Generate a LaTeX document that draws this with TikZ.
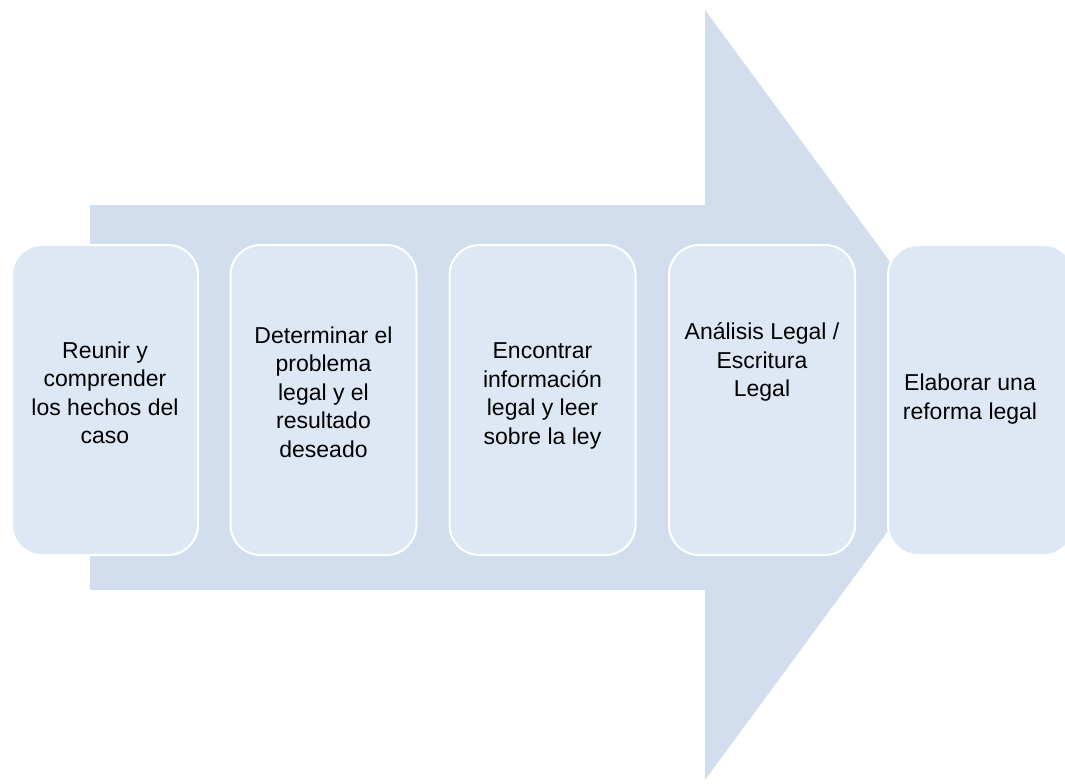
\documentclass[tikz,border=0pt]{standalone}
\usepackage{fontspec}
\setmainfont{Liberation Sans}
\definecolor{arrowfill}{RGB}{210,222,238}
\definecolor{boxfill}{RGB}{222,232,245}
\begin{document}
\begin{tikzpicture}[x=1pt,y=-1pt,
  stepbox/.style={draw=white, line width=2pt, fill=boxfill, rounded corners=30pt,
    minimum width=186pt, minimum height=310pt, inner sep=0pt},
  steptext/.style={align=center, font=\fontsize{23}{28.5}\selectfont, text=black, inner sep=0pt}]
\useasboundingbox (0,0) rectangle (1065,784);
\clip (0,0) rectangle (1065,784);
\fill[arrowfill] (90,205) -- (705,205) -- (705,10) -- (988,395) -- (705,780) -- (705,590) -- (90,590) -- cycle;
\node[stepbox] (b1) at (105,400) {};
\node[stepbox] (b2) at (323.5,400) {};
\node[stepbox] (b3) at (542.5,400) {};
\node[stepbox] (b4) at (762,400) {};
\node[stepbox] (b5) at (981,400) {};
\node[steptext] (t1) at (105,393) {Reunir y\\comprender\\los hechos del\\caso};
\node[steptext] (t2) at (323.5,392) {Determinar el\\problema\\legal y el\\resultado\\deseado};
\node[steptext] (t3) at (542.5,396) {Encontrar\\información\\legal y leer\\sobre la ley};
\node[steptext] (t4) at (762,362) {Análisis Legal /\\Escritura\\Legal};
\node[steptext] (t5) at (970,399) {Elaborar una\\reforma legal};
\end{tikzpicture}
\end{document}
